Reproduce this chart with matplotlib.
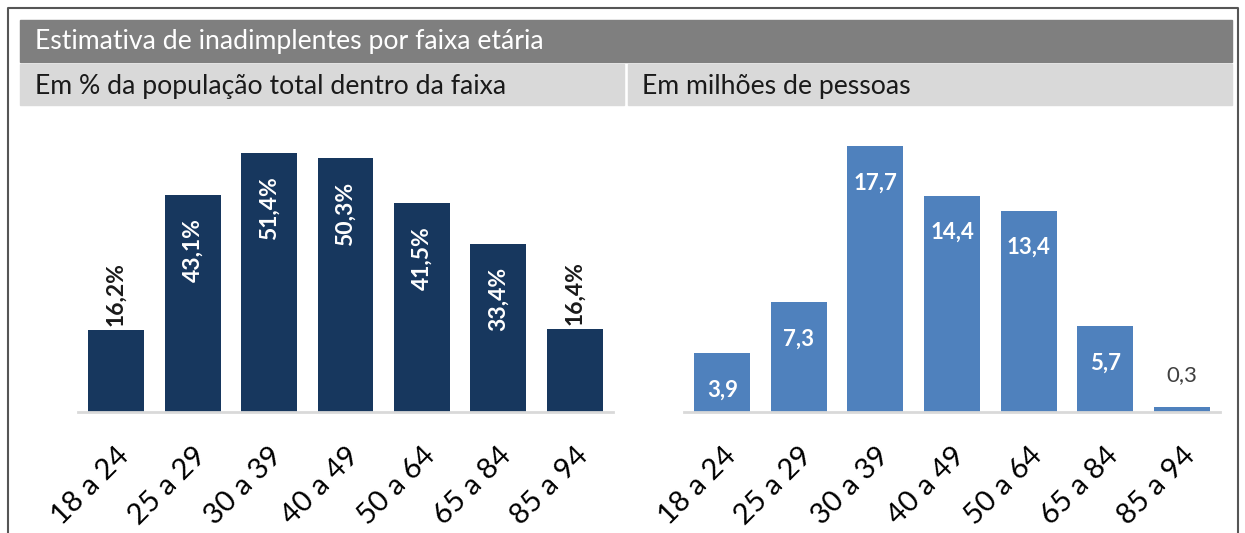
import matplotlib.pyplot as plt
from matplotlib.patches import Rectangle
from matplotlib.lines import Line2D

faixas = ['18 a 24', '25 a 29', '30 a 39', '40 a 49', '50 a 64', '65 a 84', '85 a 94']
pct = [16.2, 43.1, 51.4, 50.3, 41.5, 33.4, 16.4]
pct_labels = ['16,2%', '43,1%', '51,4%', '50,3%', '41,5%', '33,4%', '16,4%']
milhoes = [3.9, 7.3, 17.7, 14.4, 13.4, 5.7, 0.3]
milhoes_labels = ['3,9', '7,3', '17,7', '14,4', '13,4', '5,7', '0,3']

plt.rcParams['font.family'] = ['Lato', 'DejaVu Sans']

W, H = 1245, 533
fig = plt.figure(figsize=(W / 100, H / 100), dpi=100)


def px_rect(x0, y0, x1, y1, color):
    fig.patches.append(Rectangle((x0 / W, 1 - y1 / H), (x1 - x0) / W, (y1 - y0) / H,
                                 transform=fig.transFigure, color=color, zorder=0))


# outer frame (open at the bottom)
fig.lines.append(Line2D([8 / W, 8 / W, 1238 / W, 1238 / W], [0, 1 - 8 / H, 1 - 8 / H, 0],
                        transform=fig.transFigure, color='#555555', lw=1.5))

# header bars
px_rect(20, 20, 1232, 62, '#7f7f7f')
px_rect(20, 64, 624, 105, '#d9d9d9')
px_rect(628, 64, 1232, 105, '#d9d9d9')
fig.text(35 / W, 1 - 42 / H, 'Estimativa de inadimplentes por faixa etária', color='white',
         fontsize=19.2, va='center', ha='left')
fig.text(35 / W, 1 - 87 / H, 'Em % da população total dentro da faixa', color='#1a1a1a',
         fontsize=19.2, va='center', ha='left')
fig.text(642 / W, 1 - 87 / H, 'Em milhões de pessoas', color='#1a1a1a',
         fontsize=19.2, va='center', ha='left')

bottom = 1 - 412 / H
height = 282 / H
ax1 = fig.add_axes([78 / W, bottom, 535 / W, height])
ax2 = fig.add_axes([684 / W, bottom, 536 / W, height])

x = range(len(faixas))
ax1.bar(x, pct, width=0.73, color='#17375e')
ax1.set_ylim(0, 282 / 5.04)
for i, (v, lab) in enumerate(zip(pct, pct_labels)):
    if v < 20:
        ax1.annotate(lab, (i, v), xytext=(0, 3), textcoords='offset points', rotation=90,
                     ha='center', va='bottom', color='#1a1a1a', fontsize=16.5, fontweight='bold')
    else:
        ax1.annotate(lab, (i, v), xytext=(0, -17), textcoords='offset points', rotation=90,
                     ha='center', va='top', color='white', fontsize=16.5, fontweight='bold')

ax2.bar(x, milhoes, width=0.73, color='#4f81bd')
ax2.set_ylim(0, 282 / 15.03)
for i, (v, lab) in enumerate(zip(milhoes, milhoes_labels)):
    if v < 1:
        ax2.annotate(lab, (i, v), xytext=(0, 16), textcoords='offset points',
                     ha='center', va='bottom', color='#404040', fontsize=16)
    else:
        ax2.annotate(lab, (i, v), xytext=(0, -19), textcoords='offset points',
                     ha='center', va='top', color='white', fontsize=16, fontweight='bold')

for ax in (ax1, ax2):
    ax.set_xlim(-0.5, 6.5)
    for s in ['top', 'right', 'left']:
        ax.spines[s].set_visible(False)
    ax.spines['bottom'].set_color('#d9d9d9')
    ax.spines['bottom'].set_linewidth(2)
    ax.set_yticks([])
    ax.set_xticks(list(x))
    ax.set_xticklabels(faixas, rotation=45, ha='right', rotation_mode='anchor', fontsize=21)
    ax.tick_params(axis='x', length=0, pad=22)
    ax.set_facecolor('none')

fig.savefig('out.png', dpi=100)
